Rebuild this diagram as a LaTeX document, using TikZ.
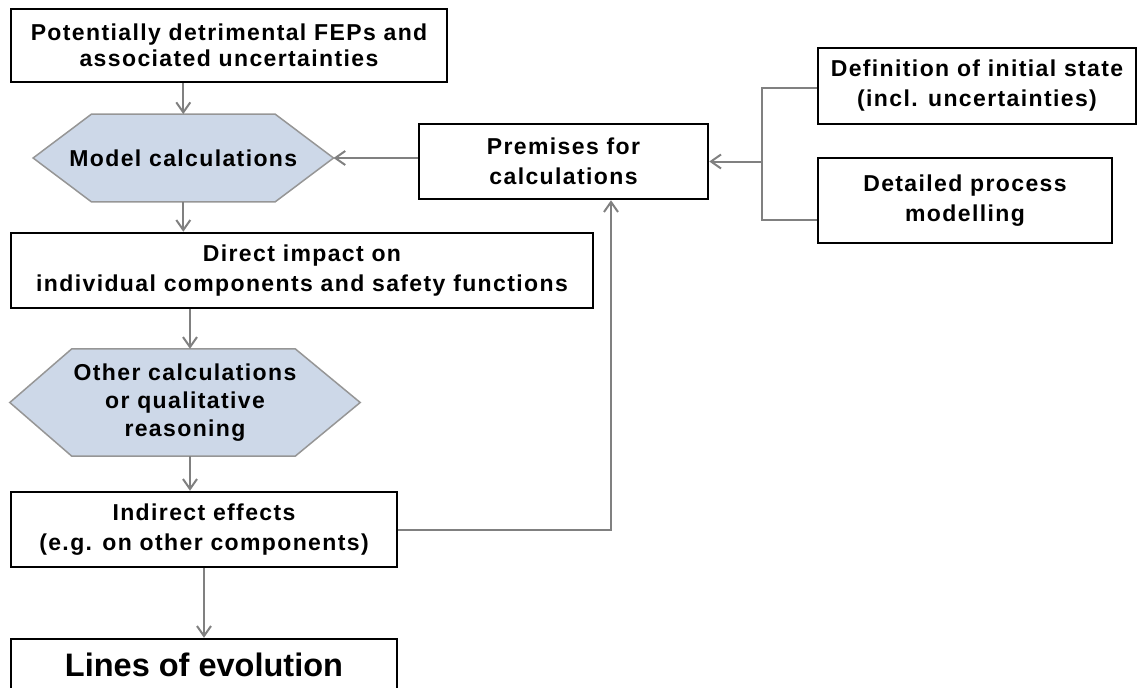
\documentclass[tikz,border=0pt]{standalone}
\usepackage{fontspec}
\setmainfont{Liberation Sans}[LetterSpace=6]
\usetikzlibrary{arrows.meta,calc}
\pgfdeclarelayer{background}
\pgfsetlayers{background,main}
\definecolor{linegray}{RGB}{128,128,128}
\definecolor{hexfill}{RGB}{205,216,232}
\definecolor{hexedge}{RGB}{150,150,150}
\tikzset{
  box/.style={draw=black, line width=2.5pt, fill=white, align=center, inner sep=0pt,
    font=\bfseries\fontsize{23pt}{30pt}\selectfont},
  hexnode/.style={inner sep=0pt, align=center,
    font=\bfseries\fontsize{23pt}{30pt}\selectfont},
  hexshape/.style={draw=hexedge, fill=hexfill, line width=1.5pt, line join=miter},
  conn/.style={draw=linegray, line width=2pt},
  arr/.style={conn, -{Straight Barb[length=10pt,width=14pt]}}
}
\begin{document}
\begin{tikzpicture}[x=1pt,y=-1pt]
\clip (0,0) rectangle (1138,688);

% left column
\node[box, minimum width=436pt, minimum height=73pt,
      font=\bfseries\fontsize{23pt}{26pt}\selectfont] (fep) at (229,45.5)
  {Potentially detrimental FEPs and\\associated uncertainties};
\node[hexnode, minimum width=300pt, minimum height=87.4pt] (model) at (183.3,158)
  {Model calculations};
\node[box, minimum width=582pt, minimum height=75pt] (direct) at (302,270.5)
  {Direct impact on\\individual components and safety functions};
\node[hexnode, minimum width=350pt, minimum height=107pt,
      font=\bfseries\fontsize{23pt}{28pt}\selectfont] (other) at (185,402.5)
  {Other calculations\\or qualitative\\reasoning};
\node[box, minimum width=386pt, minimum height=75pt] (indirect) at (204,529.5)
  {Indirect effects\\(e.g. on other components)};
\node[box, minimum width=386pt, minimum height=52pt,
      font=\addfontfeature{LetterSpace=0}\bfseries\fontsize{32.5pt}{36pt}\selectfont] (lines) at (204,665)
  {Lines of evolution};

% right part
\node[box, minimum width=289pt, minimum height=75pt] (prem) at (563.5,161.5)
  {Premises for\\calculations};
\node[box, minimum width=318pt, minimum height=76pt] (def) at (977,86)
  {Definition of initial state\\(incl. uncertainties)};
\node[box, minimum width=294pt, minimum height=85pt] (det) at (965,200.5)
  {Detailed process\\modelling};

% hexagonal calculation shapes
\begin{pgfonlayer}{background}
  \draw[hexshape] (model.west) -- ([xshift=58.4pt]model.north west)
    -- ([xshift=-58.4pt]model.north east) -- (model.east)
    -- ([xshift=-58.4pt]model.south east) -- ([xshift=58.4pt]model.south west) -- cycle;
  \draw[hexshape] (other.west) -- ([xshift=62pt]other.north west)
    -- ([xshift=-65pt]other.north east) -- (other.east)
    -- ([xshift=-65pt]other.south east) -- ([xshift=62pt]other.south west) -- cycle;
\end{pgfonlayer}

% main flow
\draw[arr] (model.north |- fep.south) -- (model.north);
\draw[arr] (model.south) -- (model.south |- direct.north);
\draw[arr] ([xshift=5pt]other.north |- direct.south) -- ([xshift=5pt]other.north);
\draw[arr] ([xshift=5pt]other.south) -- ([xshift=5pt]other.south |- indirect.north);
\draw[arr] (indirect.south) -- (lines.north);

% feedback to the premises
\draw[arr] (indirect.east) -| ([xshift=47.5pt]prem.south);
\draw[arr] (model.east -| prem.west) -- (model.east);

% inputs to the premises
\coordinate (fork) at (762,161.5);
\draw[conn] ([yshift=-2pt]def.west) -| (fork);
\draw[conn] ([yshift=-19.5pt]det.west) -| (fork);
\draw[arr] (fork) -- (prem.east);
\end{tikzpicture}
\end{document}
